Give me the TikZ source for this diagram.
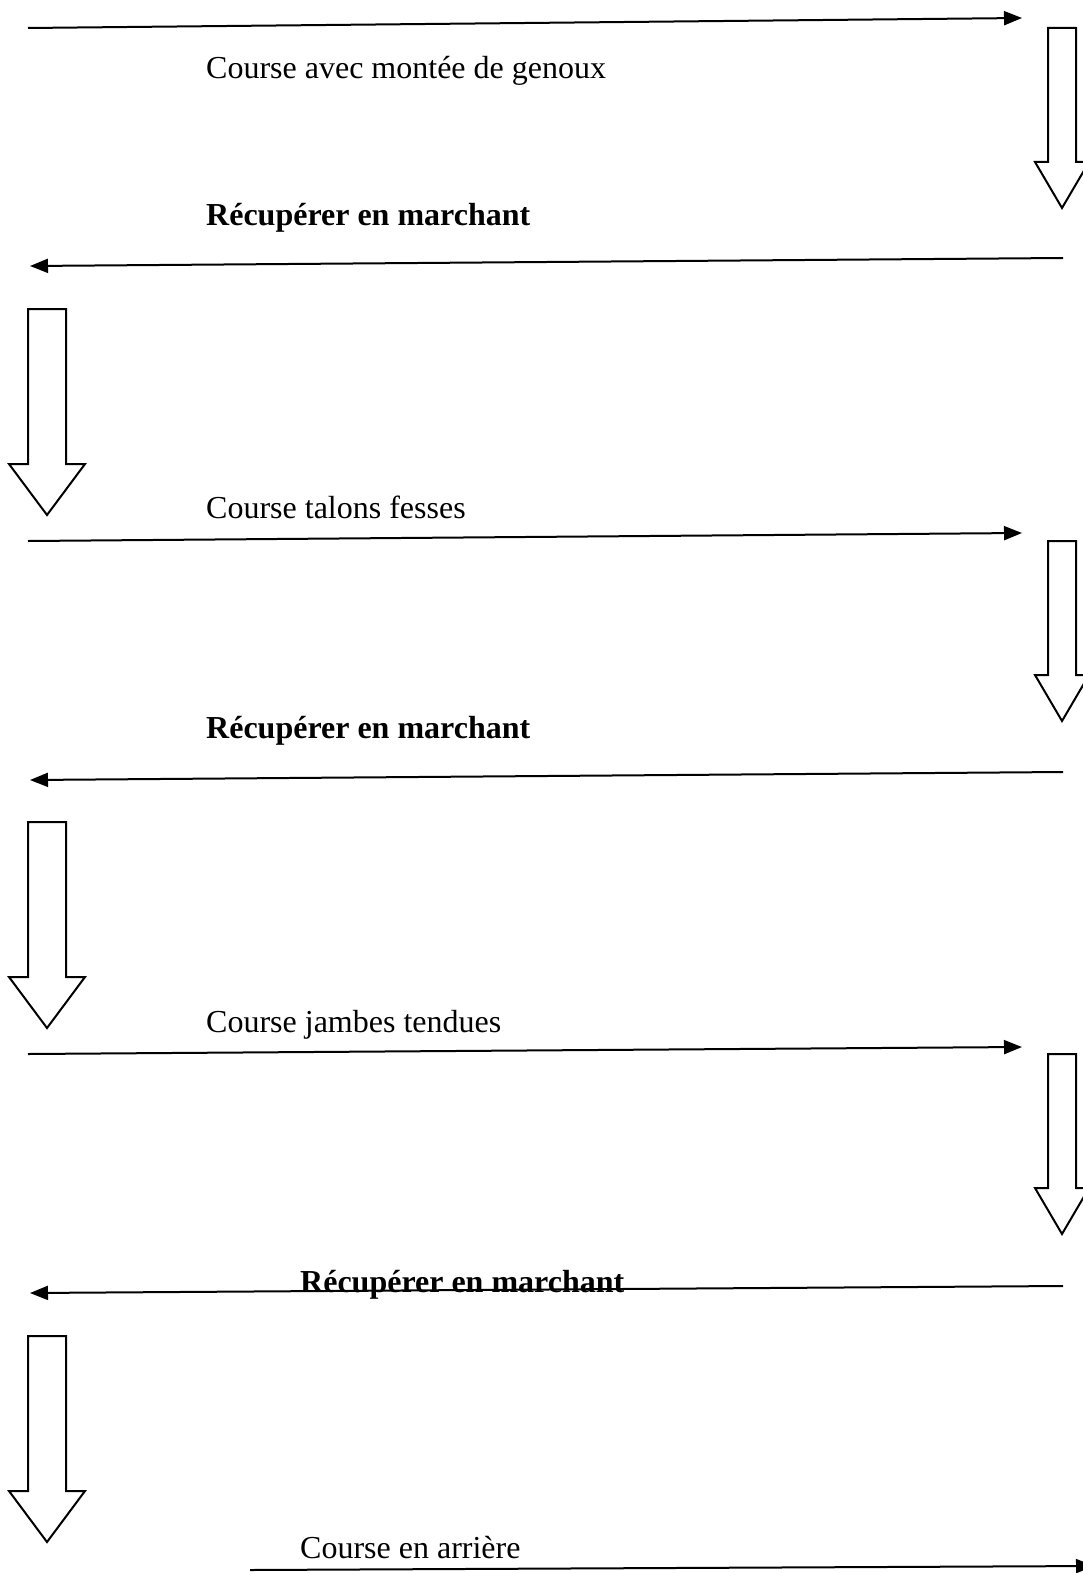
\documentclass[tikz,border=0pt]{standalone}
\usepackage{fontspec}
\setmainfont{Liberation Serif}
\usetikzlibrary{arrows.meta}
\begin{document}
\begin{tikzpicture}[x=1pt,y=-1pt,
  flow/.style={line width=2pt,-{Triangle[length=18pt,width=14pt]}},
  blockarrow/.style={draw=black,line width=2pt,fill=white,line join=miter},
  lbl/.style={anchor=base west,inner sep=0pt,font=\fontsize{32}{38}\selectfont},
  blbl/.style={anchor=base west,inner sep=0pt,font=\fontsize{32}{38}\selectfont\bfseries},
  downL/.pic={\draw[blockarrow] (-19,0) -- (19,0) -- (19,155) -- (38,155) -- (0,206) -- (-38,155) -- (-19,155) -- cycle;},
  downR/.pic={\draw[blockarrow] (-14,0) -- (14,0) -- (14,134) -- (27,134) -- (0,180) -- (-27,134) -- (-14,134) -- cycle;}]
\useasboundingbox (0,0) rectangle (1082,1573);
% flow coordinates
\coordinate (r1s) at (28,28);   \coordinate (r1e) at (1022,18);
\coordinate (l1s) at (1063,258); \coordinate (l1e) at (30,266);
\coordinate (r2s) at (28,541);  \coordinate (r2e) at (1022,533);
\coordinate (l2s) at (1063,772); \coordinate (l2e) at (30,780);
\coordinate (r3s) at (28,1054); \coordinate (r3e) at (1022,1047);
\coordinate (l3s) at (1063,1286); \coordinate (l3e) at (30,1293);
\coordinate (r4s) at (250,1570); \coordinate (r4e) at (1094,1566);
% horizontal arrows
\draw[flow] (r1s) -- (r1e);
\draw[flow] (l1s) -- (l1e);
\draw[flow] (r2s) -- (r2e);
\draw[flow] (l2s) -- (l2e);
\draw[flow] (r3s) -- (r3e);
\draw[flow] (l3s) -- (l3e);
\draw[flow] (r4s) -- (r4e);
% block arrows
\pic (bR1) at (1062,28) {downR};
\pic (bL1) at (47,309) {downL};
\pic (bR2) at (1062,541) {downR};
\pic (bL2) at (47,822) {downL};
\pic (bR3) at (1062,1054) {downR};
\pic (bL3) at (47,1336) {downL};
% labels
\node[lbl] (t1) at (206,79) {Course avec montée de genoux};
\node[blbl] (t2) at (206,225) {Récupérer en marchant};
\node[lbl] (t3) at (206,518) {Course talons fesses};
\node[blbl] (t4) at (206,738) {Récupérer en marchant};
\node[lbl] (t5) at (206,1032) {Course jambes tendues};
\node[blbl] (t6) at (300,1292) {Récupérer en marchant};
\node[lbl] (t7) at (300,1558) {Course en arrière};
\end{tikzpicture}
\end{document}
